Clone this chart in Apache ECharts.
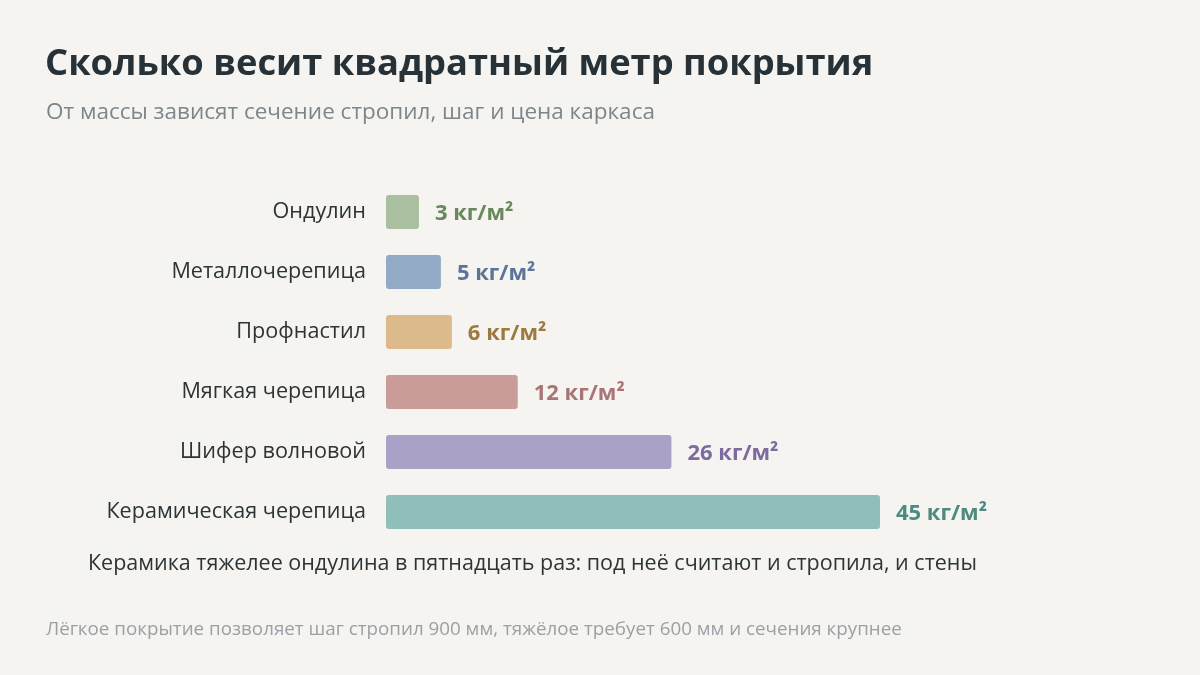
<!DOCTYPE html>
<html>
<head>
<meta charset="utf-8">
<script src="https://cdn.jsdelivr.net/npm/echarts@6/dist/echarts.min.js"></script>
<style>
  html, body { margin: 0; padding: 0; background: #f5f4f1; }
  #chart { width: 1200px; height: 675px; }
</style>
</head>
<body>
<div id="chart"></div>
<script>
// покрытия и масса, кг/м²
var roofTypes = ['Ондулин', 'Металлочерепица', 'Профнастил', 'Мягкая черепица', 'Шифер волновой', 'Керамическая черепица'];
var weights = [3, 5, 6, 12, 26, 45];
var barColors = ['#a9bfa0', '#92aac6', '#dcba8c', '#c99b99', '#aba0c5', '#90bfb9'];
var labelColors = ['#6a875e', '#5b7597', '#9c7a3f', '#a87474', '#7d6b9f', '#4e8a80'];

var myChart = echarts.init(document.getElementById('chart'));

var option = {
    backgroundColor: '#f5f4f1',
    textStyle: { fontFamily: 'Open Sans' },
    title: [
        {
            text: 'Сколько весит квадратный метр покрытия',
            left: 40,
            top: 42,
            textStyle: { fontSize: 36.3, fontWeight: 'bold', color: '#263238' }
        },
        {
            text: 'От массы зависят сечение стропил, шаг и цена каркаса',
            left: 41,
            top: 96,
            textStyle: { fontSize: 22.5, fontWeight: 'normal', color: '#7d868a' }
        }
    ],
    grid: {     //область столбиков
        left: 386,
        top: 182,
        width: 494,
        height: 360
    },
    xAxis: {
        type: 'value',
        min: 0,
        max: 45,
        show: false
    },
    yAxis: {
        type: 'category',
        inverse: true,
        data: roofTypes,
        axisLine: { show: false },
        axisTick: { show: false },
        axisLabel: {
            color: '#2d3436',
            fontSize: 21.6,
            margin: 20
        }
    },
    series: [
        {
            type: 'bar',
            barWidth: 34,
            data: weights.map(function (v, i) {
                return {
                    value: v,
                    itemStyle: { color: barColors[i], borderRadius: 3 },
                    label: { color: labelColors[i] }
                };
            }),
            label: {
                show: true,
                position: 'right',
                distance: 16,
                offset: [0, 2],
                fontSize: 22,
                fontWeight: 'bold',
                formatter: '{c} кг/м²'
            }
        }
    ],
    graphic: [
        {
            type: 'text',
            left: 88,
            top: 553,
            style: {
                text: 'Керамика тяжелее ондулина в пятнадцать раз: под неё считают и стропила, и стены',
                fill: '#2d3436',
                font: '21.5px "Open Sans"'
            }
        },
        {
            type: 'text',
            left: 46,
            top: 620,
            style: {
                text: 'Лёгкое покрытие позволяет шаг стропил 900 мм, тяжёлое требует 600 мм и сечения крупнее',
                fill: '#9aa1a5',
                font: '18.8px "Open Sans"'
            }
        }
    ]
};

myChart.setOption(option);
</script>
</body>
</html>
